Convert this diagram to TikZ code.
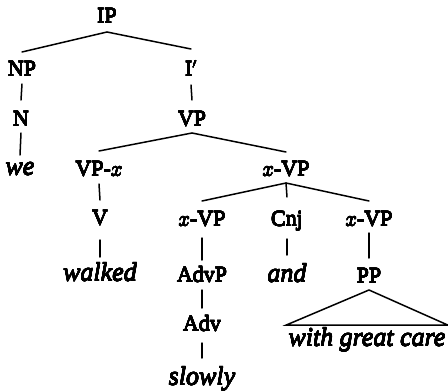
\documentclass[tikz,border=0pt]{standalone}
\usepackage{bm}
\usepackage[copies]{contour}
\usepackage{fontspec}
\setmainfont{Liberation Serif}
\contourlength{0.18pt}
\contournumber{16}
\usetikzlibrary{calc}
\tikzset{
  lab/.style={anchor=base, inner sep=0pt, font=\fontsize{22}{26}\selectfont},
  word/.style={anchor=base, inner sep=0pt, font=\fontsize{26}{30}\selectfont\itshape},
  br/.style={line width=1.5pt, line cap=round}
}
\newcommand{\edge}[4]{\draw[br] ($(#1.base)+(0,#3)$) -- ($(#2.base)+(0,#4)$);}
\newcommand{\tx}[1]{\contour{black}{#1}}
\newcommand{\xv}{$x$}
\begin{document}
\begin{tikzpicture}[x=1pt,y=-1pt]
\useasboundingbox (0,0) rectangle (448,391);
% row nodes
\node[lab] (ip) at (107,23) {\tx{IP}};
\node[lab] (np) at (22,76) {\tx{NP}};
\node[lab] (ib) at (191,76) {\tx{I$'$}};
\node[lab] (n) at (21,126) {\tx{N}};
\node[lab] (vp) at (192,126) {\tx{VP}};
\node[word] (we) at (20,175) {\tx{we}};
\node[lab] (vpx) at (99,176) {\tx{VP-\xv}};
\node[lab] (xvp) at (286,176) {\tx{\xv-VP}};
\node[lab] (v) at (100,225) {\tx{V}};
\node[lab] (xvpl) at (202,226) {\tx{\xv-VP}};
\node[lab] (cnj) at (287,226) {\tx{Cnj}};
\node[lab] (xvpr) at (369,226) {\tx{\xv-VP}};
\node[word] (walked) at (100,281) {\tx{walked}};
\node[lab] (advp) at (202,282) {\tx{AdvP}};
\node[word] (and) at (287,282) {\tx{and}};
\node[lab] (pp) at (369,283) {\tx{PP}};
\node[lab] (adv) at (202,331) {\tx{Adv}};
\node[word] (wgc) at (367,346) {\tx{with great care}};
\node[word] (slowly) at (202,385) {\tx{slowly}};
% branches
\edge{ip}{np}{9}{-24}
\edge{ip}{ib}{9}{-27}
\edge{np}{n}{8}{-26}
\edge{ib}{vp}{9}{-26}
\edge{n}{we}{7}{-20}
\edge{vp}{vpx}{7}{-25}
\edge{vp}{xvp}{7}{-24}
\edge{vpx}{v}{8}{-25}
\edge{xvp}{xvpl}{7}{-25}
\edge{xvp}{cnj}{7}{-29}
\edge{xvp}{xvpr}{7}{-25}
\edge{v}{walked}{15}{-24}
\edge{xvpl}{advp}{12}{-22}
\edge{cnj}{and}{13}{-27}
\edge{xvpr}{pp}{7}{-25}
\edge{advp}{adv}{8}{-23}
\edge{adv}{slowly}{12}{-27}
% triangle
\coordinate (apex) at ($(pp.base)+(0,7)$);
\coordinate (tl) at ($(wgc.base west)+(-2,-21)$);
\coordinate (tr) at ($(wgc.base east)+(2,-21)$);
\draw[br, line join=miter] (tl) -- (apex) -- (tr) -- cycle;
\end{tikzpicture}
\end{document}
